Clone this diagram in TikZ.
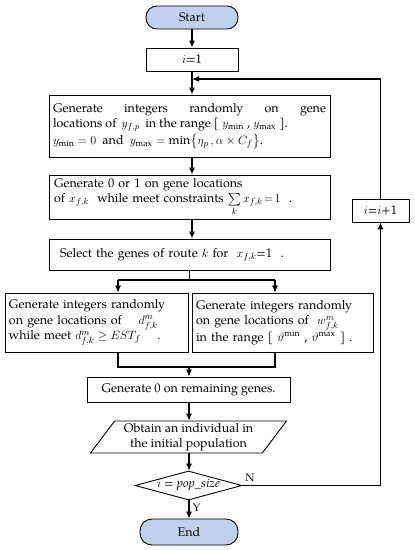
\documentclass[tikz,border=0pt]{standalone}
\usepackage{amsmath,amssymb}
\usepackage{fontspec}
\setmainfont{TeX Gyre Pagella}
\usetikzlibrary{arrows.meta,shapes.geometric}

\begin{document}
\begin{tikzpicture}%
[x=1pt, y=-1pt, font=\fontsize{12.5}{15.5}\selectfont,%
term/.style={draw, rounded corners=11pt, line width=0.9pt, minimum width=92pt, minimum height=23pt, inner sep=0pt},%
proc/.style={draw, line width=0.9pt, inner sep=0pt, align=left},%
io/.style={draw, line width=0.9pt, shape=trapezium, trapezium left angle=53, trapezium right angle=127, minimum width=196pt, minimum height=30pt, inner sep=0pt, align=center},%
decide/.style={draw, line width=0.9pt, shape=diamond, aspect=3.7, minimum width=107pt, minimum height=29pt, inner sep=0pt},%
arr/.style={line width=1.1pt, -{Latex[length=7pt,width=6pt]}},%
ln/.style={line width=1.1pt}]

\useasboundingbox (0,0) rectangle (415,550);
\definecolor{termblue}{RGB}{191,209,236}

% main column
\node[term, fill=termblue] (start) at (192,17.5) {Start};
\node[proc, minimum width=92pt, minimum height=23pt, align=center] (i1) at (192,59.5) {$i$=1};

\node[proc, text width=273pt, minimum width=281pt, minimum height=62pt, align=justify] (gen1) at (189.5,126) {%
Generate integers randomly on gene\linebreak
locations of \,$y_{f,p}$\, in the range [ $y_{\min}$ , $y_{\max}$ ].\\[1.5pt]
$y_{\min}=0$ \ and \ $y_{\max}=\min\bigl\{\eta_p\,,\alpha\times C_f\bigr\}$.};

\node[proc, text width=271pt, minimum width=281pt, minimum height=44pt] (gen2) at (189.5,197) {%
Generate 0 or 1 on gene locations\\
of $x_{f,k}$ \ while meet constraints $\sum\limits_{k} x_{f,k}\!=\!1$ \ .};

\node[proc, text width=267pt, minimum width=281pt, minimum height=31pt] (sel) at (189.5,254.5) {%
\ Select the genes of route $k$ for \ $x_{f,k}$=1 \ .};

% two branches
\node[proc, text width=175pt, minimum width=183pt, minimum height=59pt] (dfk) at (96.5,322.5) {%
Generate integers randomly\\
on gene locations of \quad $d^{m}_{f,k}$\\
while meet $d^{m}_{f,k}\geq EST_f$ \quad .};

\node[proc, text width=173pt, minimum width=181pt, minimum height=59pt] (wfk) at (282.5,322.5) {%
Generate integers randomly\\
on gene locations of \ $w^{m}_{f,k}$\\
in the range [ $\vartheta^{\min}$ , $\vartheta^{\max}$ ] .};

\node[proc, minimum width=203pt, minimum height=25pt, align=center] (gen0) at (188.5,389.5) {Generate 0 on remaining genes.};

\node[io] (obtain) at (188.5,437) {Obtain an individual in\\ the initial population};

\node[decide] (check) at (188.5,485.5) {$i$ = \textit{pop\_size}};

\node[term, fill=termblue, minimum width=98pt, minimum height=26pt, rounded corners=12pt] (stop) at (189,532) {End};

% loop back
\node[proc, minimum width=57pt, minimum height=23pt, align=center] (inc) at (380.5,210.5) {$i$=$i$+1};

\coordinate (join) at (192,79);
\coordinate (sl) at (118,280);
\coordinate (sr) at (275,280);
\coordinate (ml) at (118,367);
\coordinate (mr) at (275,367);

% connectors
\draw[arr] (start) -- (i1);
\draw[arr] (i1.south -| join) -- (join |- gen1.north);
\draw[arr] (gen1.south -| join) -- (join |- gen2.north);
\draw[arr] (gen2.south -| join) -- (join |- sel.north);
\draw[ln] (sel.south -| 189.5,0) -- (189.5,280);
\draw[ln] (sl) -- (sr);
\draw[arr] (sl) -- (sl |- dfk.north);
\draw[arr] (sr) -- (sr |- wfk.north);
\draw[ln] (ml |- dfk.south) -- (ml) -- (mr) -- (mr |- wfk.south);
\draw[arr] (189,367) -- (gen0.north -| 189,0);
\draw[arr] (gen0.south -| 189,0) -- (obtain.north -| 189,0);
\draw[arr] (obtain.south -| 189,0) -- (check.north -| 189,0);
\draw[arr] (check.south -| 189,0) -- node[right, font=\fontsize{11}{13}\selectfont, pos=0.4] {Y} (stop.north -| 189,0);
\draw[arr] (check.east) -- node[above right, font=\fontsize{11}{13}\selectfont, pos=0, xshift=-1pt] {N} (check.east -| inc.south) -- (inc.south);
\draw[arr] (inc.north) -- (inc.north |- join) -- (join);

\end{tikzpicture}
\end{document}
